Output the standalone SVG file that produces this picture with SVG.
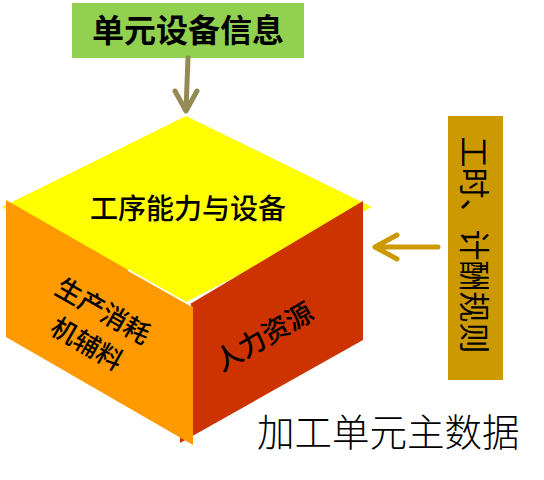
<svg xmlns="http://www.w3.org/2000/svg" width="544" height="480" viewBox="0 0 544 480">
<style>
.t{font-family:"Noto Sans CJK SC","Noto Sans CJK JP",sans-serif;fill:#000}
.m{font-weight:500}
.arr{fill:none;stroke-width:5;stroke-linecap:round;stroke-linejoin:round}
</style>
<rect width="544" height="480" fill="#fff"/>
<g id="cube">
  <polygon points="2,207 186,116 372,207 186,302" fill="#FFFF00"/>
  <polygon points="180,310 363,201 363,340 180,443" fill="#CC3300"/>
  <polygon points="6,200 193,307 193,445 6,337" fill="#FF9900"/>
  <line x1="128" y1="270" x2="191" y2="305.5" stroke="#fff" stroke-width="1.6"/>
</g>
<g id="top-face-label">
  <text class="t m" x="188" y="219" font-size="28" text-anchor="middle">工序能力与设备</text>
</g>
<g id="left-face-label">
  <text class="t m" font-size="26" text-anchor="middle" transform="translate(104,309) rotate(30)" dominant-baseline="central">生产消耗</text>
  <text class="t m" font-size="26" text-anchor="middle" transform="translate(88,342) rotate(30)" dominant-baseline="central">机辅料</text>
</g>
<g id="right-face-label">
  <text class="t m" font-size="27" text-anchor="middle" transform="translate(263,335) rotate(-30)" dominant-baseline="central">人力资源</text>
</g>
<g id="equipment-info">
  <rect x="72" y="3" width="232" height="55" fill="#92D050"/>
  <text class="t" x="188" y="42" font-size="32" font-weight="bold" text-anchor="middle">单元设备信息</text>
</g>
<g id="labor-rules">
  <rect x="448" y="116" width="55" height="264" fill="#CC9900"/>
  <text class="t" font-size="31" text-anchor="middle" dominant-baseline="central" transform="translate(476,245) rotate(90)">工时、计酬规则</text>
</g>
<g id="caption">
  <text class="t" x="257" y="446" font-size="37.5" font-weight="300">加工单元主数据</text>
</g>
<g id="connectors">
  <path class="arr" d="M188,58 L186,110 M175,91 L186,111 L197,91" stroke="#948A54"/>
  <path class="arr" d="M438,247 L375,247 M397,235 L375,247 L397,259" stroke="#CC9900"/>
</g>
</svg>
